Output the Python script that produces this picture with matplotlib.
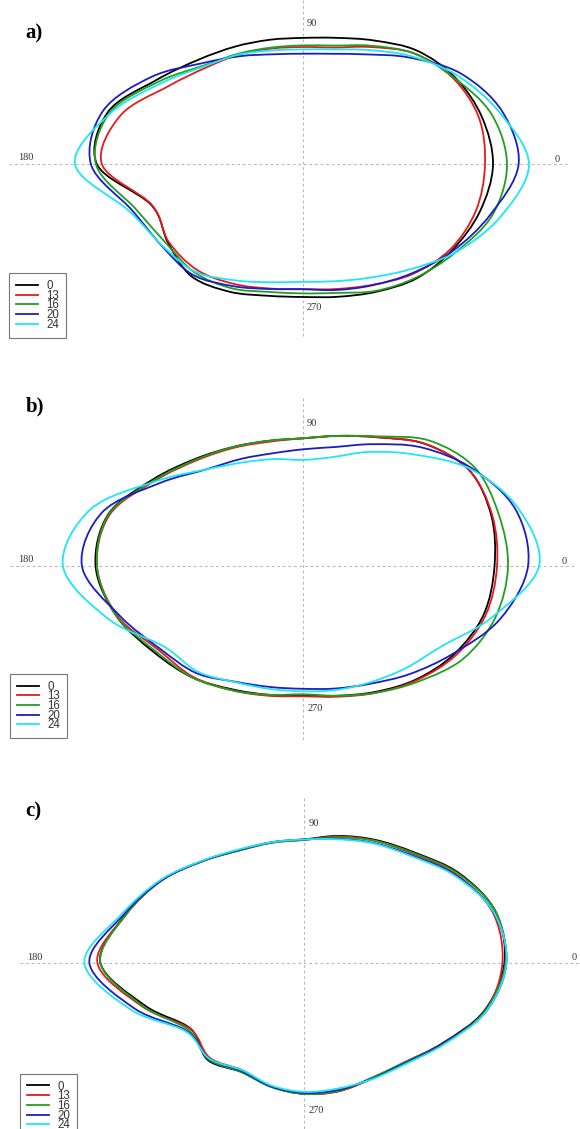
import numpy as np
import matplotlib
matplotlib.use("Agg")
import matplotlib.pyplot as plt
from matplotlib.path import Path
from matplotlib.patches import PathPatch
from matplotlib.lines import Line2D

# ---------------- data ----------------
ANGLES = list(range(0, 360, 15))          # degrees, 0 at right, 90 at top
SERIES = ["0", "13", "16", "20", "24"]
COLORS = ["#000000", "#e8191e", "#20a020", "#1c1cc4", "#1ee6f4"]

# panel a) radii (pixels) per angle
A_0  = [190, 185, 175, 161, 143, 131, 126.5, 129, 136, 148, 169, 202, 206, 157, 156, 158, 147, 136, 132.6, 137, 147, 161, 172, 183]
A_13 = [182, 182, 173, 157, 135.5, 121, 117.4, 120, 127, 137, 156, 189, 201, 156.5, 155, 149.5, 138, 128.5, 124.8, 129, 139, 155, 170, 179]
A_16 = [204, 195, 174, 157, 137, 123, 119, 121, 128, 140, 166, 200, 207, 173, 158, 153, 143, 132, 129, 133, 146, 160, 176, 196]
A_20 = [215.6, 206, 182, 151, 127, 114.5, 110.7, 114, 125, 143, 175, 207, 212, 177, 163, 156, 140.5, 129, 124.8, 130, 139.5, 154, 173, 194]
A_24 = [226, 203, 178, 153, 132, 119, 115, 118, 127, 139, 163, 199, 228, 180, 162.5, 152, 134, 122, 117.4, 121, 131, 149, 176, 204]

# panel b)
B_0  = [191.5, 195, 192, 173, 149, 135, 128, 130, 138, 152, 173.5, 201.5, 207.4, 193, 172, 157, 142, 133, 129, 134, 145, 160, 175, 187]
B_13 = [194, 196, 192, 173, 149, 135, 128, 129, 137, 150, 171, 200, 206, 192, 167, 156, 143, 134, 130, 135, 146, 161, 177, 189]
B_16 = [205, 202.5, 198, 178, 150, 135, 128, 130, 138, 151, 172, 201, 206, 193, 170, 157, 143, 133, 128, 134, 146, 163, 185, 199]
B_20 = [225, 220, 195.5, 168, 141, 123.5, 117, 117, 124, 137, 166, 208, 221, 190, 165, 151, 133.5, 125, 122.5, 126.5, 135.5, 152, 174, 204]
B_24 = [236, 223, 194, 158, 132, 113, 106.4, 111, 120, 137, 170, 220, 240, 202, 160.5, 149, 134, 127, 125, 128, 134, 144.5, 160, 196]

# panel c)
C_0  = [200, 198, 179, 156, 142, 131.5, 123.5, 124.8, 130, 144, 165, 185.5, 204, 165, 131.5, 137, 126, 128, 131, 132.5, 133.5, 141, 160, 186]
C_13 = [198, 195, 176, 154, 141, 131, 123, 124.5, 130, 144, 165, 185, 207, 168, 132, 134, 124, 128, 131, 133, 134, 141, 161, 187]
C_16 = [201, 198, 178, 155, 141, 130, 123, 124.5, 130, 144, 165, 185, 204, 167, 134, 136, 126, 128.5, 131, 132.5, 133, 141, 161, 187]
C_20 = [202, 196, 175, 152, 138.5, 128.5, 123.5, 125, 130.5, 144, 165, 187, 215, 176, 136, 135, 125, 128, 130, 131.5, 134, 142, 161, 188]
C_24 = [202, 196, 174, 151, 138, 128, 123.5, 125, 131, 144.5, 166, 189, 220, 180, 137, 135, 124, 127, 129, 130, 134.5, 143, 162, 188]

AXIS_LABELS = ["0", "90", "180", "270"]
PANEL_TITLES = ["a)", "b)", "c)"]

# ---------------- layout (figure pixels) ----------------
W, H = 580, 1129
PANELS = [
    dict(title=PANEL_TITLES[0], radii=[A_0, A_13, A_16, A_20, A_24], center=(303, 164.4),
         hline=(9, 567), vline=(0, 339), title_pos=(34, 33),
         lab=dict(p90=(312, 23.5), p270=(314, 308), p180=(26, 157), p0=(557, 159.4)),
         legend=(9.3, 273)),
    dict(title=PANEL_TITLES[1], radii=[B_0, B_13, B_16, B_20, B_24], center=(303, 566.3),
         hline=(10, 575), vline=(398, 740), title_pos=(35, 406.5),
         lab=dict(p90=(312, 423), p270=(315, 708.3), p180=(26, 559), p0=(563.7, 561.3)),
         legend=(10.4, 673.7)),
    dict(title=PANEL_TITLES[2], radii=[C_0, C_13, C_16, C_20, C_24], center=(304.4, 962.9),
         hline=(20, 578), vline=(798, 1129), title_pos=(33, 811),
         lab=dict(p90=(314, 823.6), p270=(316.7, 1110.5), p180=(35, 957.9), p0=(574, 957.9)),
         legend=(20.4, 1073.6)),
]


def smooth_closed_path(xs, ys):
    P = np.column_stack([xs, ys])
    n = len(P)
    verts = [P[0]]
    codes = [Path.MOVETO]
    for i in range(n):
        p0, p1, p2, p3 = P[i - 1], P[i], P[(i + 1) % n], P[(i + 2) % n]
        c1 = p1 + (p2 - p0) / 6.0
        c2 = p2 - (p3 - p1) / 6.0
        verts += [c1, c2, p2]
        codes += [Path.CURVE4] * 3
    return Path(np.array(verts), codes)


fig = plt.figure(figsize=(W / 100, H / 100), dpi=100)
ax = fig.add_axes([0, 0, 1, 1])
ax.set_xlim(0, W)
ax.set_ylim(H, 0)
ax.axis("off")

theta = np.deg2rad(np.array(ANGLES, dtype=float))
grid_kw = dict(color="#b8b8b8", lw=0.8, ls=(0, (2.5, 2.5)), zorder=1)
lab_kw = dict(fontsize=7.5, family="Liberation Serif", color="#333333", ha="center", va="center")

for p in PANELS:
    cx, cy = p["center"]
    ax.plot([p["hline"][0], p["hline"][1]], [cy, cy], **grid_kw)
    ax.plot([cx, cx], [p["vline"][0], p["vline"][1]], **grid_kw)
    for key, txt in zip(["p0", "p90", "p180", "p270"], AXIS_LABELS):
        ax.text(*p["lab"][key], txt, **lab_kw)
    ax.text(*p["title_pos"], p["title"], fontsize=15, family="Liberation Serif",
            fontweight="bold", ha="center", va="center", color="black")
    for r, col in zip(p["radii"], COLORS):
        r = np.array(r, dtype=float)
        xs = cx + r * np.cos(theta)
        ys = cy - r * np.sin(theta)
        path = smooth_closed_path(xs, ys)
        ax.add_patch(PathPatch(path, fill=False, edgecolor=col, lw=1.3, zorder=3))
    handles = [Line2D([], [], color=c, lw=1.3) for c in COLORS]
    lx, ly = p["legend"]
    leg = fig.legend(handles, SERIES, loc="upper left",
                     bbox_to_anchor=(lx / W, 1 - ly / H), bbox_transform=fig.transFigure,
                     labelspacing=-0.2, handlelength=1.9, handletextpad=0.7,
                     borderpad=0.6, borderaxespad=0, fancybox=False, framealpha=1,
                     edgecolor="#777777", prop=dict(family="Liberation Sans", size=8.3))
    leg.get_frame().set_linewidth(0.8)
    for t in leg.get_texts():
        t.set_color("#333333")

fig.savefig("out.png", dpi=100)
